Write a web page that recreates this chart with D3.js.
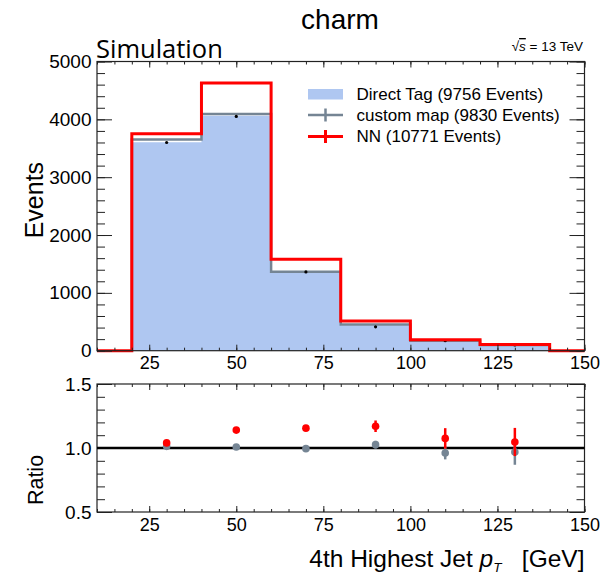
<!DOCTYPE html>
<html>
<head>
<meta charset="utf-8">
<script src="https://cdn.jsdelivr.net/npm/d3@7"></script>
<style>
  html, body { margin: 0; padding: 0; background: #fff; }
  svg text { font-family: "Liberation Sans", Arial, Helvetica, sans-serif; fill: #000; }
</style>
</head>
<body>
<svg id="chart" width="603" height="578"></svg>
<script>
// ---- histogram content (4th highest jet pT, charm) ----
const binEdges   = [20, 40, 60, 80, 100, 120, 140];
const directTag  = [3605, 4060, 1370, 440, 178, 103];   // filled
const customMap  = [3652, 4092, 1363, 451, 171, 100];   // grey step
const nnValues   = [3749, 4628, 1582, 515, 191, 108];   // red step
const binCenters = [30, 50, 70, 90, 110, 130];
const markerVals = [3600, 4050, 1362, 412, 172, 99];    // small black markers

// ---- ratio panel ----
const nnRatio    = [1.040, 1.140, 1.155, 1.170, 1.075, 1.047];
const nnRatioErr = [0.010, 0.010, 0.012, 0.045, 0.080, 0.110];
const cmRatio    = [1.013, 1.008, 0.995, 1.026, 0.961, 0.969];
const cmRatioErr = [0.010, 0.008, 0.012, 0.030, 0.050, 0.100];

// ---- axes ----
const xMajorTicks   = [25, 50, 75, 100, 125, 150];
const xMinorTicks   = d3.range(10, 151, 5);
const yTopMajor     = [0, 1000, 2000, 3000, 4000, 5000];
const yTopMinor     = d3.range(0, 5001, 200);
const yRatioMajor   = [0.5, 1.0, 1.5];
const yRatioMinor   = d3.range(5, 16).map(d => d / 10);

const legendLabels = ["Direct Tag (9756 Events)", "custom map (9830 Events)", "NN (10771 Events)"];

const COL_FILL = "#afc7f1";
const COL_GREY = "#758594";
const COL_RED  = "#ff0000";
const COL_AX   = "#222";

const svg = d3.select("#chart");
svg.append("rect").attr("width", 603).attr("height", 578).attr("fill", "#fff");

const X0 = 97, X1 = 584.5;
const TOP_T = 61.5, TOP_B = 350.7;
const RAT_T = 384, RAT_B = 512;

const x  = d3.scaleLinear().domain([10, 150]).range([X0, X1]);
const yT = d3.scaleLinear().domain([0, 5000]).range([TOP_B, TOP_T]);
const yR = d3.scaleLinear().domain([0.5, 1.5]).range([RAT_B, RAT_T]);

// step outline through bin edges, optionally padded with zero to the axis ends
function stepPoints(edges, vals, pad) {
  const pts = [];
  if (pad) pts.push([x.domain()[0], 0]);
  pts.push([edges[0], 0]);
  vals.forEach((v, i) => { pts.push([edges[i], v]); pts.push([edges[i + 1], v]); });
  pts.push([edges[edges.length - 1], 0]);
  if (pad) pts.push([x.domain()[1], 0]);
  return pts;
}
const stepLine = d3.line().x(d => x(d[0])).y(d => yT(d[1]));

// ---------- upper panel ----------
const upper = svg.append("g");

const fillPts = directTag.map((v, i) => [binEdges[i], v]).concat([[binEdges[binEdges.length - 1], directTag[directTag.length - 1]]]);
upper.append("path")
  .attr("d", d3.area().curve(d3.curveStepAfter).x(d => x(d[0])).y0(yT(0)).y1(d => yT(d[1]))(fillPts))
  .attr("fill", COL_FILL);

upper.append("path")
  .attr("d", stepLine(stepPoints(binEdges, customMap, false)))
  .attr("fill", "none").attr("stroke", COL_GREY).attr("stroke-width", 2.5);

upper.selectAll("circle.mk").data(binCenters).join("circle")
  .attr("class", "mk")
  .attr("cx", d => x(d)).attr("cy", (d, i) => yT(markerVals[i]))
  .attr("r", 1.6).attr("fill", "#000");

upper.append("path")
  .attr("d", stepLine(stepPoints(binEdges, nnValues, true)))
  .attr("fill", "none").attr("stroke", COL_RED).attr("stroke-width", 3)
  .attr("stroke-linejoin", "miter");

// axes of a panel: inside ticks on all four sides
function drawAxes(g, yScale, yMaj, yMin, yFmt, yTop, yBot, xLabelPad, yMajLen, yMinLen) {
  const style = sel => {
    sel.select(".domain").remove();
    sel.attr("font-family", null).attr("font-size", null);
    sel.selectAll("line").attr("stroke", COL_AX).attr("stroke-width", 1);
  };
  // left
  g.append("g").attr("transform", `translate(${X0},0)`)
    .call(d3.axisLeft(yScale).tickValues(yMin).tickSize(-yMinLen).tickFormat("")).call(style);
  g.append("g").attr("transform", `translate(${X0},0)`)
    .call(d3.axisLeft(yScale).tickValues(yMaj).tickSize(-yMajLen).tickPadding(5.5).tickFormat(yFmt))
    .call(style)
    .call(s => s.selectAll("text").attr("font-size", 19));
  // right
  g.append("g").attr("transform", `translate(${X1},0)`)
    .call(d3.axisRight(yScale).tickValues(yMin).tickSize(-yMinLen).tickFormat("")).call(style);
  g.append("g").attr("transform", `translate(${X1},0)`)
    .call(d3.axisRight(yScale).tickValues(yMaj).tickSize(-yMajLen).tickFormat("")).call(style);
  // bottom
  g.append("g").attr("transform", `translate(0,${yBot})`)
    .call(d3.axisBottom(x).tickValues(xMinorTicks).tickSize(-3).tickFormat("")).call(style);
  g.append("g").attr("transform", `translate(0,${yBot})`)
    .call(d3.axisBottom(x).tickValues(xMajorTicks).tickSize(-6).tickPadding(xLabelPad).tickFormat(d3.format("d")))
    .call(style)
    .call(s => s.selectAll("text").attr("font-size", 18));
  // top
  g.append("g").attr("transform", `translate(0,${yTop})`)
    .call(d3.axisTop(x).tickValues(xMinorTicks).tickSize(-3).tickFormat("")).call(style);
  g.append("g").attr("transform", `translate(0,${yTop})`)
    .call(d3.axisTop(x).tickValues(xMajorTicks).tickSize(-6).tickFormat("")).call(style);
  // frame
  g.append("rect").attr("x", X0).attr("y", yTop).attr("width", X1 - X0).attr("height", yBot - yTop)
    .attr("fill", "none").attr("stroke", COL_AX).attr("stroke-width", 1.2);
  g.selectAll("text").attr("fill", "#000");
}

drawAxes(upper, yT, yTopMajor, yTopMinor, d3.format("d"), TOP_T, TOP_B, 5.5, 15, 8);

// legend
const leg = svg.append("g");
const legX0 = 308, legX1 = 343, legTextX = 356.5;
const legBase = [100, 121, 142];
leg.append("rect").attr("x", legX0).attr("y", 89).attr("width", legX1 - legX0).attr("height", 10.5).attr("fill", COL_FILL);
[[COL_GREY, 115, 2.5], [COL_RED, 136.5, 3]].forEach(([c, cy, w]) => {
  const cx = (legX0 + legX1) / 2;
  leg.append("line").attr("x1", legX0).attr("x2", legX1).attr("y1", cy).attr("y2", cy).attr("stroke", c).attr("stroke-width", w);
  leg.append("line").attr("x1", cx).attr("x2", cx).attr("y1", cy - 6.5).attr("y2", cy + 6.5).attr("stroke", c).attr("stroke-width", w);
});
leg.selectAll("text").data(legendLabels).join("text")
  .attr("x", legTextX).attr("y", (d, i) => legBase[i])
  .attr("font-size", 17).text(d => d);

// ---------- ratio panel ----------
const rat = svg.append("g");
drawAxes(rat, yR, yRatioMajor, yRatioMinor, d3.format(".1f"), RAT_T, RAT_B, 6, 15, 8);

rat.append("line").attr("x1", X0).attr("x2", X1).attr("y1", yR(1)).attr("y2", yR(1))
  .attr("stroke", "#000").attr("stroke-width", 2.5);

function ratioSeries(vals, errs, col) {
  const g = rat.append("g");
  g.selectAll("line").data(binCenters).join("line")
    .attr("x1", d => x(d)).attr("x2", d => x(d))
    .attr("y1", (d, i) => yR(vals[i] - errs[i])).attr("y2", (d, i) => yR(vals[i] + errs[i]))
    .attr("stroke", col).attr("stroke-width", 2.5);
  g.selectAll("circle").data(binCenters).join("circle")
    .attr("cx", d => x(d)).attr("cy", (d, i) => yR(vals[i])).attr("r", 3.8).attr("fill", col);
}
ratioSeries(cmRatio, cmRatioErr, COL_GREY);
ratioSeries(nnRatio, nnRatioErr, COL_RED);

// ---------- titles ----------
svg.append("text").attr("x", 340).attr("y", 29).attr("text-anchor", "middle")
  .attr("font-size", 28).text("charm");

svg.append("text").attr("x", 96).attr("y", 57.5)
  .style("font-family", "'Open Sans', 'Noto Sans', sans-serif")
  .attr("font-size", 25.5).text("Simulation");

const rs = svg.append("text").attr("x", 583).attr("y", 51).attr("text-anchor", "end").attr("font-size", 13.5);
rs.append("tspan").text("\u221A");
rs.append("tspan").attr("font-style", "italic").style("text-decoration", "overline").text("s");
rs.append("tspan").text(" = 13 TeV");

svg.append("text")
  .attr("transform", `translate(43,${(TOP_T + TOP_B) / 2 - 6}) rotate(-90)`)
  .attr("text-anchor", "middle").attr("font-size", 25).text("Events");

svg.append("text")
  .attr("transform", `translate(43,480) rotate(-90)`)
  .attr("text-anchor", "middle").attr("font-size", 21.5).text("Ratio");

const xt = svg.append("text").attr("x", X1).attr("y", 567).attr("text-anchor", "end").attr("font-size", 24.5);
xt.append("tspan").text("4th Highest Jet ");
xt.append("tspan").attr("font-style", "italic").text("p");
xt.append("tspan").attr("font-style", "italic").attr("font-size", 13.5).attr("dy", 5).text("T");
xt.append("tspan").attr("dy", -5).text("\u00A0\u00A0 [GeV]");
</script>
</body>
</html>
